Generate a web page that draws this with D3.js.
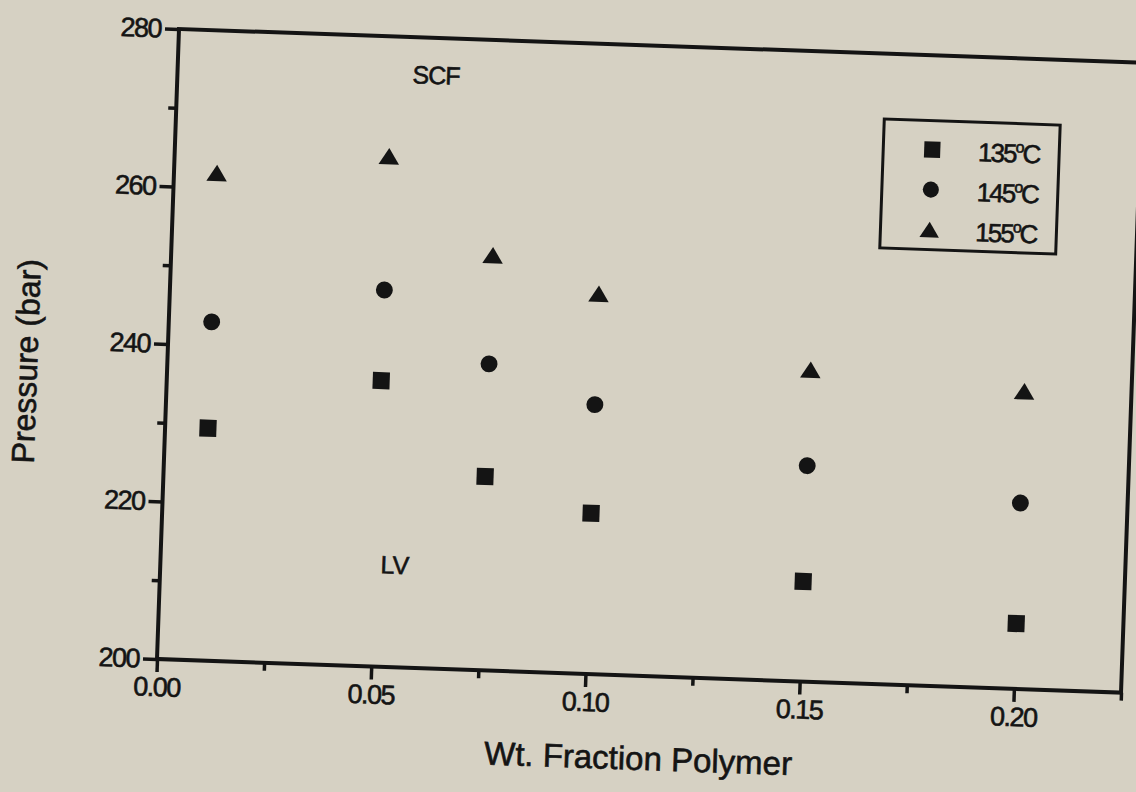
<!DOCTYPE html>
<html>
<head>
<meta charset="utf-8">
<script src="https://cdn.jsdelivr.net/npm/d3@7"></script>
<style>
  body { margin: 0; background: #d6d1c3; }
  svg { display: block; }
  .tick text { font-family: "Liberation Sans", Arial, sans-serif; font-size: 27px; fill: #141414; stroke: #141414; stroke-width: 0.6px; letter-spacing: -1.5px; }
  .lbl { stroke: #141414; stroke-width: 0.6px; }
</style>
</head>
<body>
<div id="chart"></div>
<script>
// data
var wtFraction = [0.01, 0.05, 0.075, 0.10, 0.15, 0.20];
var p135 = [229.5, 236.3, 224.6, 220.4, 212.7, 208.3];
var p145 = [243.0, 247.8, 238.9, 234.2, 227.4, 223.6];
var p155 = [261.9, 264.8, 252.7, 248.3, 239.6, 237.8];
var seriesLabels = ["135", "145", "155"];
var xTicks = [0, 0.05, 0.10, 0.15, 0.20];
var xMinorTicks = [0.025, 0.075, 0.125, 0.175, 0.225];
var yTicks = [200, 220, 240, 260, 280];
var yMinorTicks = [210, 230, 250, 270];

var W = 1136, H = 792;
var w = 964.6, h = 630.4;
var ink = "#141414";
var font = '"Liberation Sans", Arial, sans-serif';

var svg = d3.select("#chart").append("svg")
  .attr("width", W)
  .attr("height", H)
  .style("background", "#d6d1c3");

// the scan is tilted about 2 degrees
var g = svg.append("g")
  .attr("transform", "translate(157,659) rotate(2) translate(0," + (-h) + ")");

var x = d3.scaleLinear().domain([0, 0.225]).range([0, w]);
var y = d3.scaleLinear().domain([200, 280]).range([h, 0]);

// minor ticks
g.append("g")
  .attr("transform", "translate(0," + h + ")")
  .call(d3.axisBottom(x).tickValues(xMinorTicks).tickSize(8).tickFormat(""))
  .call(function (s) { s.select(".domain").remove(); });
g.append("g")
  .call(d3.axisLeft(y).tickValues(yMinorTicks).tickSize(8).tickFormat(""))
  .call(function (s) { s.select(".domain").remove(); });

// major ticks
g.append("g")
  .attr("transform", "translate(0," + h + ")")
  .call(d3.axisBottom(x).tickValues(xTicks).tickSize(13).tickPadding(5).tickFormat(d3.format(".2f")))
  .call(function (s) { s.select(".domain").remove(); });
g.append("g")
  .call(d3.axisLeft(y).tickValues(yTicks).tickSize(14).tickPadding(4).tickFormat(d3.format("d")))
  .call(function (s) { s.select(".domain").remove(); });

g.selectAll(".tick line").attr("stroke", ink).attr("stroke-width", 3.5);

// frame
g.append("rect")
  .attr("x", 0).attr("y", 0)
  .attr("width", w).attr("height", h)
  .attr("fill", "none")
  .attr("stroke", ink)
  .attr("stroke-width", 4);

// markers
var triangleShape = {
  draw: function (ctx, size) {
    var a = Math.sqrt(size);
    ctx.moveTo(0, -a * 0.4);
    ctx.lineTo(a * 0.5, a * 0.4);
    ctx.lineTo(-a * 0.5, a * 0.4);
    ctx.closePath();
  }
};
var shapes = [d3.symbolSquare, d3.symbolCircle, triangleShape];
var sizes = [290, 225, 420];
var series = [p135, p145, p155];

series.forEach(function (vals, si) {
  g.append("g").selectAll("path")
    .data(vals)
    .enter()
    .append("path")
    .attr("d", d3.symbol().type(shapes[si]).size(sizes[si]))
    .attr("transform", function (d, i) { return "translate(" + x(wtFraction[i]) + "," + y(d) + ")"; })
    .attr("fill", ink);
});

// region labels
g.append("text")
  .attr("class", "lbl")
  .attr("x", x(0.0603)).attr("y", y(275.3) + 9)
  .attr("text-anchor", "middle")
  .style("font-family", font).style("font-size", "25px").style("letter-spacing", "-1px").attr("fill", ink)
  .text("SCF");
g.append("text")
  .attr("class", "lbl")
  .attr("x", x(0.0547)).attr("y", y(213.0) + 9)
  .attr("text-anchor", "middle")
  .style("font-family", font).style("font-size", "25px").attr("fill", ink)
  .text("LV");

// legend
var legend = g.append("g").attr("transform", "translate(708," + (h - 565.1) + ")");
legend.append("rect")
  .attr("width", 176).attr("height", 129)
  .attr("fill", "none").attr("stroke", ink).attr("stroke-width", 3);
seriesLabels.forEach(function (lab, i) {
  var row = legend.append("g").attr("transform", "translate(0," + (29 + i * 40) + ")");
  row.append("path")
    .attr("d", d3.symbol().type(shapes[i]).size(sizes[i] * 0.9))
    .attr("transform", "translate(49,0)")
    .attr("fill", ink);
  var t = row.append("text")
    .attr("class", "lbl")
    .attr("x", 95).attr("y", 10)
    .style("font-family", font).style("font-size", "26px")
    .style("letter-spacing", "-2px")
    .attr("fill", ink);
  t.append("tspan").text(lab);
  t.append("tspan").attr("dy", -10).style("font-size", "16px").text("o");
  t.append("tspan").attr("dy", 10).text("C");
});

// axis titles
g.append("text")
  .attr("class", "lbl")
  .attr("x", w / 2 + 2).attr("y", h + 94)
  .attr("text-anchor", "middle")
  .style("font-family", font).style("font-size", "33px").attr("fill", ink)
  .text("Wt. Fraction Polymer");
g.append("text")
  .attr("class", "lbl")
  .attr("transform", "translate(-130," + (h - 293) + ") rotate(-90)")
  .attr("text-anchor", "middle")
  .style("font-family", font).style("font-size", "32px").attr("fill", ink)
  .text("Pressure (bar)");
</script>
</body>
</html>
